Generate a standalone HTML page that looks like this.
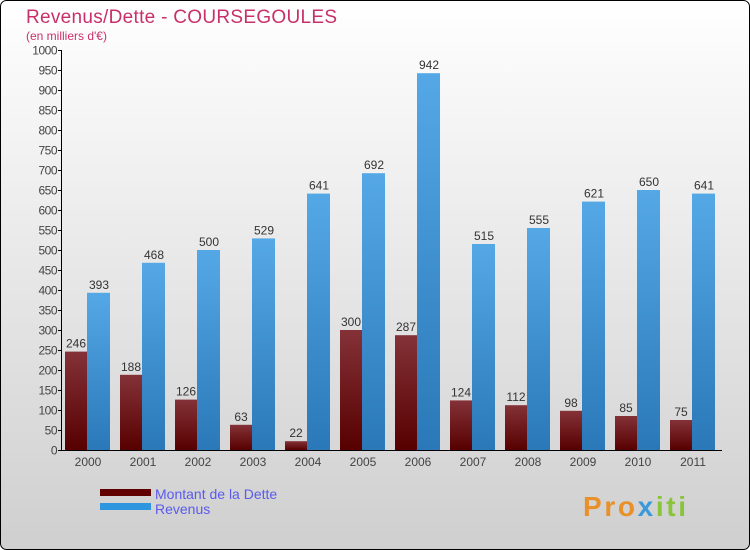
<!DOCTYPE html>
<html><head><meta charset="utf-8"><style>
body{margin:0;}
svg{display:block;font-family:"Liberation Sans",sans-serif;}
</style></head><body>
<svg id="c" width="750" height="550" xmlns="http://www.w3.org/2000/svg">
<defs>
<linearGradient id="bg" x1="0" y1="0" x2="0" y2="1"><stop offset="0" stop-color="#ffffff"/><stop offset="1" stop-color="#cfcfcf"/></linearGradient>
<linearGradient id="rg" x1="0" y1="0" x2="0" y2="1"><stop offset="0" stop-color="#843238"/><stop offset="1" stop-color="#570000"/></linearGradient>
<linearGradient id="bgr" x1="0" y1="0" x2="0" y2="1"><stop offset="0" stop-color="#55a8e6"/><stop offset="1" stop-color="#2a78b8"/></linearGradient>
</defs>
<rect x="0.5" y="0.5" width="749" height="549" rx="6" fill="url(#bg)" stroke="#000"/>
<text x="26" y="23" font-size="19" fill="#c8306a" textLength="311">Revenus/Dette - COURSEGOULES</text>
<text x="26" y="40" font-size="12" fill="#c8306a">(en milliers d'€)</text>
<g id="axes"></g>
<g id="bars"></g>
<rect x="100" y="489" width="51" height="7" fill="#600000"/>
<text x="155" y="499" font-size="14" fill="#5a5aee">Montant de la Dette</text>
<rect x="100" y="503" width="51" height="7" fill="#2e96de"/>
<text x="155" y="514" font-size="14" fill="#5a5aee">Revenus</text>
<text x="583" y="516" font-size="28" font-weight="bold" fill="#e8902a" textLength="103">Pro<tspan fill="#3a9ad8">x</tspan><tspan fill="#8ac43a">iti</tspan></text>
</svg>
<script>
const years=["2000","2001","2002","2003","2004","2005","2006","2007","2008","2009","2010","2011"];
const dette=[246,188,126,63,22,300,287,124,112,98,85,75];
const revenus=[393,468,500,529,641,692,942,515,555,621,650,641];
const yTicks=[0,50,100,150,200,250,300,350,400,450,500,550,600,650,700,750,800,850,900,950,1000];
const NS="http://www.w3.org/2000/svg";
const y=v=>450-v*0.4;
const gx=i=>62+55*i;
function mk(t,a,p){const e=document.createElementNS(NS,t);for(const k in a)e.setAttribute(k,a[k]);p.appendChild(e);return e;}
const ax=document.getElementById('axes'),bars=document.getElementById('bars');
const yl=mk('line',{x1:61.5,y1:50,x2:61.5,y2:450.5,stroke:'#000'},ax);


const xl=mk('line',{x1:61,y1:450.5,x2:722,y2:450.5,stroke:'#000'},ax);


yTicks.forEach(v=>{
  mk('line',{x1:58,x2:62,y1:y(v)+0.5,y2:y(v)+0.5,stroke:'#000'},ax);
  const t=mk('text',{x:57,y:y(v)+4.5,'font-size':12,fill:'#444','text-anchor':'end','letter-spacing':'-0.5'},ax);
  t.textContent=v;
  
  
});
years.forEach((yr,i)=>{
  const t=mk('text',{x:gx(i)+26,y:466,'font-size':12,fill:'#444','text-anchor':'middle'},ax);
  t.textContent=yr;
  
  
  const r=mk('rect',{x:gx(i)+3,y:y(dette[i]),width:22,height:dette[i]*0.4,fill:'url(#rg)'},bars);
  
  
  const b=mk('rect',{x:gx(i)+25,y:y(revenus[i]),width:23,height:revenus[i]*0.4,fill:'url(#bgr)'},bars);
  
  
  const l1=mk('text',{x:gx(i)+14,y:y(dette[i])-4,'font-size':12,fill:'#333','text-anchor':'middle'},bars);
  l1.textContent=dette[i];
  
  
  const l2=mk('text',{x:gx(i)+37,y:y(revenus[i])-4,'font-size':12,fill:'#333','text-anchor':'middle'},bars);
  l2.textContent=revenus[i];
  
  
});
</script>
</body></html>
